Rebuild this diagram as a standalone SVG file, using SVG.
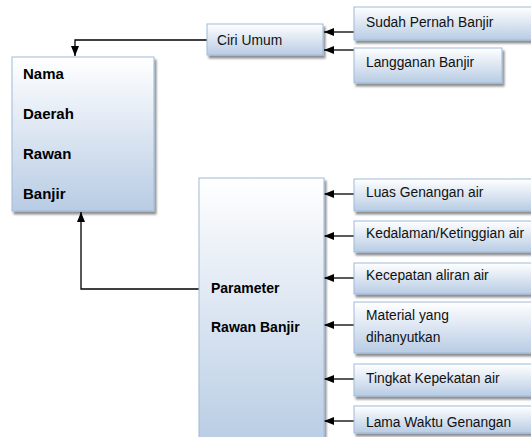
<svg xmlns="http://www.w3.org/2000/svg" width="531" height="437" viewBox="0 0 531 437">
<defs>
<linearGradient id="g" x1="0" y1="0" x2="0" y2="1">
<stop offset="0" stop-color="#ffffff"/>
<stop offset="1" stop-color="#b8cce4"/>
</linearGradient>
<filter id="sh" x="-10%" y="-10%" width="130%" height="140%">
<feGaussianBlur in="SourceAlpha" stdDeviation="1"/>
<feOffset dx="2" dy="2.5" result="o"/>
<feComponentTransfer><feFuncA type="linear" slope="0.45"/></feComponentTransfer>
<feMerge><feMergeNode/><feMergeNode in="SourceGraphic"/></feMerge>
</filter>
<marker id="ah" viewBox="0 0 10 10" refX="10" refY="5" markerWidth="10" markerHeight="10" markerUnits="userSpaceOnUse" orient="auto">
<path d="M0,1 L10,5 L0,9 z" fill="#000"/>
</marker>
</defs>
<style>
.box{fill:url(#g);stroke:#9fb9da;stroke-width:1;filter:url(#sh)}
.t{font-family:"Liberation Sans",Arial,sans-serif;font-size:13.8px;fill:#111}
.b{font-family:"Liberation Sans",Arial,sans-serif;font-size:15px;font-weight:bold;fill:#000}
.bp{font-family:"Liberation Sans",Arial,sans-serif;font-size:14px;font-weight:bold;fill:#000}
.c{fill:none;stroke:#000;stroke-width:1.3;marker-end:url(#ah)}
</style>
<rect width="531" height="437" fill="#fff"/>
<g id="connectors">
<path class="c" d="M207,40 H75 V56"/>
<path class="c" d="M199,289 H81 V212"/>
<path class="c" d="M354,32 H324"/>
<path class="c" d="M354,50 H324"/>
<path class="c" d="M354,194 H324"/>
<path class="c" d="M354,236 H324"/>
<path class="c" d="M354,278 H324"/>
<path class="c" d="M354,325 H324"/>
<path class="c" d="M354,379 H324"/>
<path class="c" d="M354,421 H324"/>
</g>
<g id="nama">
<rect class="box" x="12" y="57" width="142" height="154"/>
<text class="b" x="23" y="79">Nama</text>
<text class="b" x="23" y="119">Daerah</text>
<text class="b" x="23" y="159">Rawan</text>
<text class="b" x="23" y="199">Banjir</text>
</g>
<g id="ciri">
<rect class="box" x="207" y="24" width="116" height="31"/>
<text class="t" x="217" y="45">Ciri Umum</text>
</g>
<g id="sudah">
<rect class="box" x="354" y="7" width="190" height="33"/>
<text class="t" x="366" y="27">Sudah Pernah Banjir</text>
</g>
<g id="langganan">
<rect class="box" x="354" y="48" width="148" height="35"/>
<text class="t" x="366" y="67">Langganan Banjir</text>
</g>
<g id="parameter">
<rect class="box" x="199" y="178" width="125" height="270"/>
<text class="bp" x="211" y="293">Parameter</text>
<text class="bp" x="211" y="332">Rawan Banjir</text>
</g>
<g id="luas">
<rect class="box" x="354" y="179" width="190" height="32"/>
<text class="t" x="366" y="197">Luas Genangan air</text>
</g>
<g id="kedalaman">
<rect class="box" x="354" y="221" width="190" height="31"/>
<text class="t" x="366" y="238">Kedalaman/Ketinggian air</text>
</g>
<g id="kecepatan">
<rect class="box" x="354" y="263" width="190" height="31"/>
<text class="t" x="366" y="280">Kecepatan aliran air</text>
</g>
<g id="material">
<rect class="box" x="354" y="302" width="190" height="51"/>
<text class="t" x="366" y="320">Material yang</text>
<text class="t" x="366" y="342">dihanyutkan</text>
</g>
<g id="tingkat">
<rect class="box" x="354" y="364" width="190" height="32"/>
<text class="t" x="366" y="383">Tingkat Kepekatan air</text>
</g>
<g id="lama">
<rect class="box" x="354" y="406" width="190" height="27"/>
<text class="t" x="366" y="427">Lama Waktu Genangan</text>
</g>
</svg>
